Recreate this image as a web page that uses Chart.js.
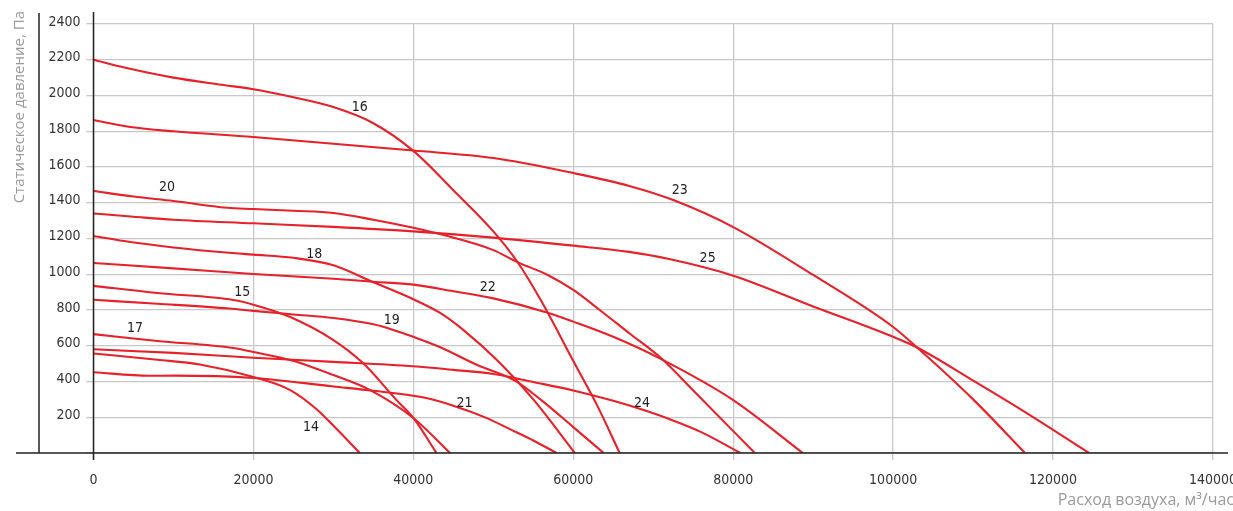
<!DOCTYPE html>
<html>
<head>
<meta charset="utf-8">
<script src="https://cdn.jsdelivr.net/npm/chart.js"></script>
<style>
  body { margin: 0; background: #fff; }
</style>
</head>
<body>
<canvas id="fanChart" width="1233" height="511"></canvas>
<script>
// [flow m3/h, pressure Pa]
const curve14 = [[0, 557], [8000, 522], [13300, 495], [20000, 425], [24600, 352], [27900, 245], [30500, 130], [33300, 0]];
const curve15 = [[0, 935], [8000, 895], [17500, 856], [20000, 830], [24600, 761], [30000, 632], [33700, 503], [37900, 296], [40000, 196], [42900, 0]];
const curve16 = [[0, 2200], [4000, 2155], [10000, 2100], [16000, 2060], [20000, 2035], [25000, 1990], [30000, 1935], [35000, 1845], [40000, 1690], [45000, 1470], [50000, 1240], [53000, 1070], [56000, 850], [60000, 515], [63000, 265], [65800, 0]];
const curve17 = [[0, 665], [8000, 627], [17500, 587], [20000, 565], [24600, 520], [30000, 436], [34600, 352], [40000, 196], [44600, 0]];
const curve18 = [[0, 1214], [4600, 1180], [10000, 1150], [17000, 1120], [20000, 1110], [25000, 1092], [30000, 1050], [35000, 955], [40000, 860], [43300, 785], [46200, 690], [50800, 505], [55000, 300], [60200, 0]];
const curve19 = [[0, 857], [8000, 835], [17000, 808], [20000, 795], [25000, 775], [30000, 755], [35000, 720], [37400, 690], [40000, 650], [43300, 593], [48000, 492], [52700, 405], [56000, 296], [60000, 145], [63800, 0]];
const curve20 = [[0, 1466], [5000, 1435], [10000, 1410], [16700, 1372], [20000, 1365], [25000, 1355], [30000, 1343], [35000, 1305], [40000, 1260], [43300, 1225], [50000, 1135], [53000, 1068], [56800, 996], [60000, 912], [63300, 800], [67000, 670], [71000, 530], [75000, 350], [82700, 0]];
const curve21 = [[0, 452], [7000, 432], [10000, 433], [20000, 420], [30000, 372], [35000, 348], [41000, 313], [45000, 265], [49200, 195], [52000, 135], [55000, 70], [57900, 0]];
const curve22 = [[0, 1063], [10000, 1033], [20000, 1001], [30000, 975], [35000, 958], [40000, 942], [45000, 905], [50000, 865], [56800, 785], [60000, 735], [65000, 650], [71000, 525], [80000, 296], [88700, 0]];
const curve23 = [[0, 1863], [4600, 1824], [10000, 1800], [20000, 1768], [30000, 1730], [40000, 1692], [50000, 1650], [60000, 1566], [67000, 1494], [72500, 1415], [80000, 1264], [90000, 996], [100000, 705], [103000, 590], [110000, 300], [116500, 0]];
const curve24 = [[0, 580], [10000, 560], [20000, 533], [30000, 510], [40000, 485], [45000, 465], [50000, 442], [55000, 397], [60000, 350], [65000, 292], [68600, 243], [72000, 190], [76000, 117], [80900, 0]];
const curve25 = [[0, 1340], [5000, 1322], [10000, 1305], [20000, 1285], [30000, 1265], [40000, 1240], [50000, 1205], [60000, 1160], [67000, 1125], [72000, 1085], [80000, 992], [90000, 820], [100000, 650], [103000, 590], [110000, 405], [117000, 215], [124500, 0]];

const curveNames = ["14", "15", "16", "17", "18", "19", "20", "21", "22", "23", "24", "25"];
const curveList = [curve14, curve15, curve16, curve17, curve18, curve19, curve20, curve21, curve22, curve23, curve24, curve25];
// where each curve number sits, in chart units
const labelFlow = [27200, 18600, 33300, 5200, 27600, 37300, 9200, 46400, 49300, 73300, 68600, 76800];
const labelPress = [145, 898, 1935, 699, 1113, 744, 1488, 280, 929, 1471, 280, 1091];

const xMax = 140000, xStep = 20000;
const yMax = 2400, yStep = 200;
const xTitle = "Расход воздуха, м³/час";
const yTitle = "Статическое давление, Па";

const narrowFont = "'Liberation Sans Narrow', 'DejaVu Sans Condensed', sans-serif";

const decorPlugin = {
  id: "decor",
  afterDraw(chart) {
    const ctx = chart.ctx;
    const area = chart.chartArea;
    const xs = chart.scales.x;
    const ys = chart.scales.y;
    ctx.save();

    ctx.strokeStyle = "#222";
    ctx.lineWidth = 1.5;
    ctx.beginPath();
    ctx.moveTo(16, area.bottom);
    ctx.lineTo(1228, area.bottom);
    ctx.moveTo(area.left, 12);
    ctx.lineTo(area.left, area.bottom + 7);
    ctx.moveTo(39, 13);
    ctx.lineTo(39, area.bottom);
    ctx.stroke();

    ctx.fillStyle = "#222";
    ctx.font = "14px " + narrowFont;
    ctx.textAlign = "center";
    ctx.textBaseline = "middle";
    curveNames.forEach((name, i) => {
      ctx.fillText(name, xs.getPixelForValue(labelFlow[i]), ys.getPixelForValue(labelPress[i]));
    });

    ctx.fillStyle = "#9a9a9a";
    ctx.font = "16px 'Open Sans', sans-serif";
    ctx.textAlign = "right";
    ctx.fillText(xTitle, 1234, 500);

    ctx.font = "15px 'Open Sans', sans-serif";
    ctx.translate(20, 11);
    ctx.rotate(-Math.PI / 2);
    ctx.textAlign = "right";
    ctx.fillText(yTitle, 0, 0);
    ctx.restore();
  }
};

const datasets = curveList.map((pts, i) => ({
  label: curveNames[i],
  data: pts.map(p => ({ x: p[0], y: p[1] })),
  borderColor: "#e62129",
  borderWidth: 2.1,
  pointRadius: 0,
  fill: false,
  cubicInterpolationMode: "monotone"
}));

const gridStyle = {
  color: "#c8c8c8",
  lineWidth: 1.3,
  tickLength: 7,
  tickColor: "#c8c8c8"
};

new Chart(document.getElementById("fanChart"), {
  type: "line",
  data: { datasets: datasets },
  options: {
    responsive: false,
    animation: false,
    layout: { padding: { left: 0, right: 20, top: 24, bottom: 0 }, autoPadding: false },
    plugins: { legend: { display: false }, tooltip: { enabled: false } },
    scales: {
      x: {
        type: "linear",
        min: 0,
        max: xMax,
        afterFit: (s) => {
          s.height = 58;
          // let the last tick label run off the edge like the original
          s.paddingLeft = 0;
          s.paddingRight = 0;
        },
        ticks: {
          stepSize: xStep,
          autoSkip: false,
          maxRotation: 0,
          padding: 12,
          color: "#333",
          font: { family: narrowFont, size: 14 },
          callback: (v) => String(v)
        },
        grid: gridStyle,
        border: { display: false }
      },
      y: {
        min: 0,
        max: yMax,
        afterFit: (s) => {
          s.width = 93.5;
          s.paddingTop = 0;
          s.paddingBottom = 0;
        },
        ticks: {
          stepSize: yStep,
          padding: 6,
          labelOffset: -2,
          color: "#333",
          font: { family: narrowFont, size: 14 },
          callback: (v) => (v === 0 ? "" : String(v))
        },
        grid: gridStyle,
        border: { display: false }
      }
    }
  },
  plugins: [decorPlugin]
});
</script>
</body>
</html>
